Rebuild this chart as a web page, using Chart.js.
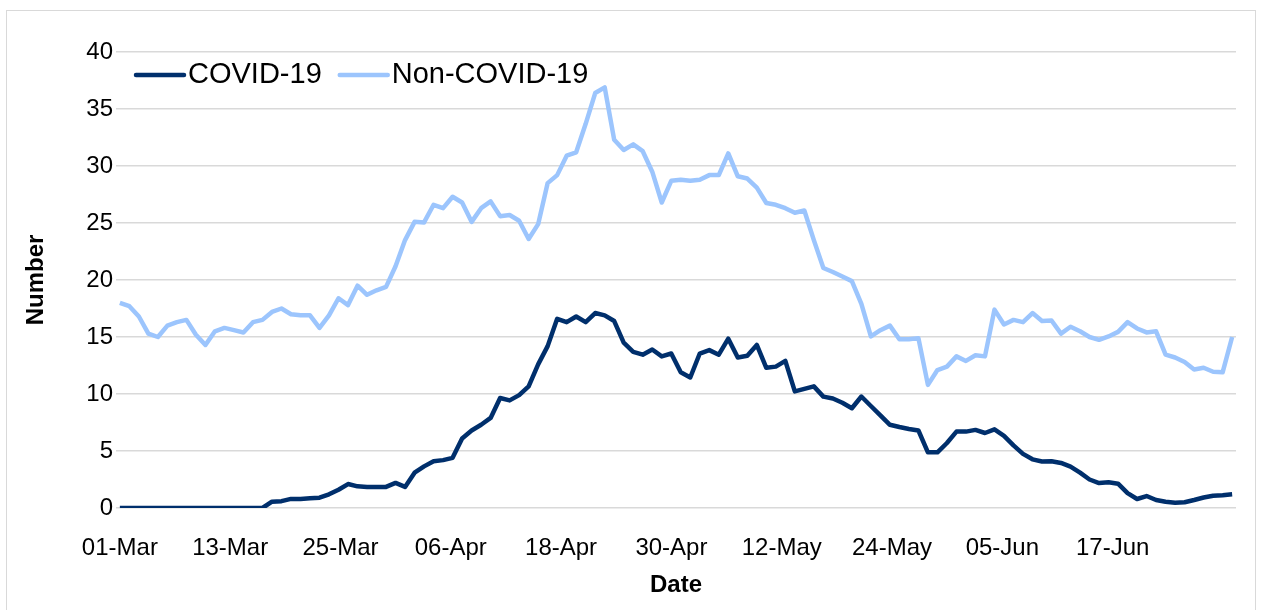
<!DOCTYPE html>
<html>
<head>
<meta charset="utf-8">
<script src="https://cdn.jsdelivr.net/npm/chart.js@4.4.0/dist/chart.umd.min.js"></script>
<style>
html, body { margin: 0; padding: 0; background: #fff; }
#wrap { position: relative; width: 1262px; height: 610px; }
</style>
</head>
<body>
<div id="wrap"><canvas id="chart"></canvas></div>
<script>
// x runs in days from 01-Mar (day 0) to 30-Jun (day 121)
const first_day = 0;
const last_day = 121;
const tick_days = [0, 12, 24, 36, 48, 60, 72, 84, 96, 108];
const tick_labels = ['01-Mar', '13-Mar', '25-Mar', '06-Apr', '18-Apr', '30-Apr', '12-May', '24-May', '05-Jun', '17-Jun'];

const covid = [
    0, 0, 0, 0, 0, 0, 0, 0, 0, 0,
    0, 0, 0, 0, 0, 0, 0.55, 0.6, 0.8, 0.8,
    0.85, 0.9, 1.2, 1.6, 2.1, 1.9, 1.85, 1.85, 1.85, 2.2,
    1.85, 3.1, 3.65, 4.1, 4.2, 4.4, 6.1, 6.8, 7.3, 7.9,
    9.65, 9.44, 9.9, 10.67, 12.6, 14.2, 16.6, 16.3, 16.8, 16.3,
    17.1, 16.9, 16.4, 14.5, 13.7, 13.45, 13.9, 13.3, 13.55, 11.9,
    11.45, 13.55, 13.85, 13.45, 14.85, 13.2, 13.35, 14.3, 12.3, 12.4,
    12.9, 10.23, 10.45, 10.67, 9.77, 9.6, 9.23, 8.75, 9.78, 8.95,
    8.12, 7.3, 7.1, 6.93, 6.8, 4.88, 4.88, 5.7, 6.7, 6.7,
    6.85, 6.58, 6.9, 6.33, 5.5, 4.75, 4.27, 4.08, 4.1, 3.95,
    3.63, 3.1, 2.5, 2.19, 2.25, 2.13, 1.3, 0.79, 1.05, 0.7,
    0.55, 0.47, 0.5, 0.7, 0.92, 1.08, 1.12, 1.2
];

const non_covid = [
    18.0, 17.7, 16.8, 15.3, 15.0, 16.0, 16.3, 16.5, 15.2, 14.3,
    15.5, 15.8, 15.6, 15.4, 16.3, 16.5, 17.2, 17.5, 17.0, 16.9,
    16.9, 15.8, 16.9, 18.4, 17.8, 19.5, 18.7, 19.1, 19.4, 21.2,
    23.5, 25.1, 25.05, 26.6, 26.3, 27.3, 26.8, 25.1, 26.3, 26.9,
    25.6, 25.7, 25.2, 23.6, 24.9, 28.5, 29.2, 30.9, 31.2, 33.7,
    36.4, 36.9, 32.3, 31.4, 31.9, 31.3, 29.5, 26.8, 28.7, 28.8,
    28.7, 28.8, 29.2, 29.2, 31.1, 29.1, 28.9, 28.1, 26.75, 26.6,
    26.3, 25.9, 26.1, 23.5, 21.05, 20.7, 20.3, 19.9, 17.9, 15.05,
    15.6, 16.0, 14.8, 14.8, 14.9, 10.8, 12.1, 12.4, 13.3, 12.9,
    13.4, 13.3, 17.4, 16.1, 16.5, 16.3, 17.1, 16.4, 16.45, 15.3,
    15.9, 15.5, 15.0, 14.75, 15.05, 15.45, 16.3, 15.75, 15.4, 15.5,
    13.45, 13.2, 12.8, 12.15, 12.3, 11.95, 11.9, 15.0
];

// the readings are evenly spread over the date range
function to_points(values) {
    const step = (last_day - first_day) / (values.length - 1);
    return values.map((v, i) => ({ x: first_day + i * step, y: v }));
}

const font_family = "'Liberation Sans', Arial, sans-serif";

// light grey frame round the whole chart, like the spreadsheet export
const frame = {
    id: 'frame',
    beforeDraw(chart) {
        const ctx = chart.ctx;
        ctx.save();
        ctx.strokeStyle = '#d9d9d9';
        ctx.lineWidth = 1;
        ctx.strokeRect(6.5, 10.5, 1249, 620);
        ctx.restore();
    }
};

// one-row legend sitting inside the plot, top left
const inline_legend = {
    id: 'inline_legend',
    afterDraw(chart) {
        const ctx = chart.ctx;
        const y = 75;
        let x = 136;
        ctx.save();
        ctx.font = '29px ' + font_family;
        ctx.textBaseline = 'middle';
        ctx.textAlign = 'left';
        chart.data.datasets.forEach((ds) => {
            ctx.strokeStyle = ds.borderColor;
            ctx.lineWidth = ds.borderWidth;
            ctx.lineCap = 'round';
            ctx.beginPath();
            ctx.moveTo(x, y);
            ctx.lineTo(x + 48, y);
            ctx.stroke();
            ctx.fillStyle = '#000';
            ctx.fillText(ds.label, x + 52, y);
            x += 52 + ctx.measureText(ds.label).width + 18;
        });
        ctx.restore();
    }
};

Chart.defaults.font.family = font_family;
Chart.defaults.color = '#000';

new Chart(document.getElementById('chart'), {
    type: 'line',
    data: {
        datasets: [
            {
                label: 'COVID-19',
                data: to_points(covid),
                borderColor: '#002f6c',
                backgroundColor: '#002f6c',
                borderWidth: 4.5,
                pointRadius: 0,
                borderJoinStyle: 'round'
            },
            {
                label: 'Non-COVID-19',
                data: to_points(non_covid),
                borderColor: '#9cc5fd',
                backgroundColor: '#9cc5fd',
                borderWidth: 4.5,
                pointRadius: 0,
                borderJoinStyle: 'round'
            }
        ]
    },
    options: {
        responsive: true,
        maintainAspectRatio: false,
        animation: false,
        layout: {
            padding: { top: 52, right: 26, bottom: 0, left: 0 }
        },
        scales: {
            x: {
                type: 'linear',
                min: first_day - 0.42,
                max: last_day + 0.42,
                afterBuildTicks: (scale) => {
                    scale.ticks = tick_days.map((d) => ({ value: d }));
                },
                afterFit: (scale) => {
                    scale.height = 102;
                },
                ticks: {
                    autoSkip: false,
                    maxRotation: 0,
                    padding: 18,
                    font: { size: 24 },
                    callback: (value) => tick_labels[tick_days.indexOf(value)]
                },
                grid: { display: false },
                border: { display: false },
                title: {
                    display: true,
                    text: 'Date',
                    font: { size: 24, weight: 'bold' },
                    padding: { top: 0, bottom: 10 }
                }
            },
            y: {
                min: 0,
                max: 40,
                afterFit: (scale) => {
                    scale.width = 116;
                },
                ticks: {
                    stepSize: 5,
                    padding: 3,
                    font: { size: 24 }
                },
                grid: {
                    color: '#d9d9d9',
                    lineWidth: 1.5,
                    drawTicks: false
                },
                border: { display: false },
                title: {
                    display: true,
                    text: 'Number',
                    font: { size: 24, weight: 'bold' },
                    padding: { top: 22, bottom: 0 }
                }
            }
        },
        plugins: {
            legend: { display: false },
            tooltip: { enabled: false }
        }
    },
    plugins: [frame, inline_legend]
});
</script>
</body>
</html>
